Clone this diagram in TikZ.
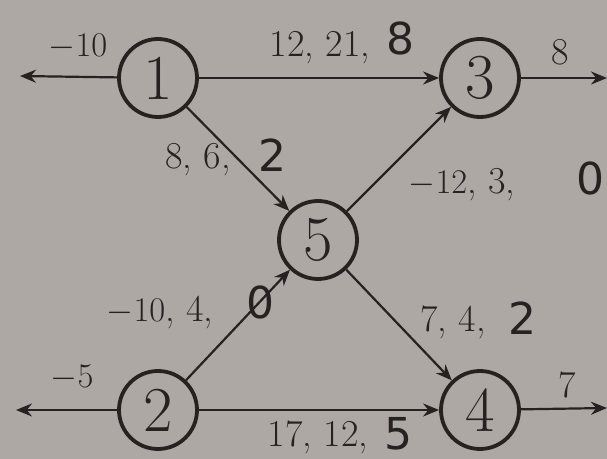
\documentclass[tikz,border=0pt]{standalone}
\usepackage{fontspec}
\newfontfamily\hand{DejaVu Sans}
\usetikzlibrary{arrows.meta}
\definecolor{bg}{RGB}{174,168,164}
\definecolor{ink}{RGB}{38,34,34}
\begin{document}
\begin{tikzpicture}[x=0.5pt,y=-0.5pt,
  vert/.style={circle, draw=ink, line width=1.9pt, minimum size=39pt, inner sep=0pt, text=ink, font=\fontsize{32}{32}\selectfont},
  edge/.style={draw=ink, line width=1.1pt, -{Stealth[length=8pt,width=6.5pt]}},
  lab/.style={text=ink, inner sep=0pt, font=\fontsize{19}{19}\selectfont},
  hw/.style={text=ink, inner sep=0pt, font=\hand\fontsize{22}{22}\selectfont}]
\fill[bg] (0,0) rectangle (607,459);
\useasboundingbox (0,0) rectangle (607,459);
\node[vert] (n1) at (158,78) {1};
\node[vert] (n3) at (480,78) {3};
\node[vert] (n5) at (318,240) {5};
\node[vert] (n2) at (158,410) {2};
\node[vert] (n4) at (480,410) {4};
\coordinate (o1) at (20,76);
\coordinate (o3) at (607,78);
\coordinate (o2) at (16,410);
\coordinate (o4) at (607,408);
\draw[edge] (n1) -- (o1);
\draw[edge] (n3) -- (o3);
\draw[edge] (n2) -- (o2);
\draw[edge] (n4) -- (o4);
\draw[edge] (n1) -- (n3);
\draw[edge] (n1) -- (n5);
\draw[edge] (n5) -- (n3);
\draw[edge] (n2) -- (n5);
\draw[edge] (n5) -- (n4);
\draw[edge] (n2) -- (n4);
\node[lab] (l1) at (78,47) {$-10$};
\node[lab] (l3) at (560,52) {8};
\node[lab] (l2) at (72,378) {$-5$};
\node[lab] (l4) at (567,385) {7};
\node[lab] (e13) at (320,48) {12, 21,};
\node[hw] (h13) at (400,38) {8};
\node[lab] (e15) at (198,160) {8, 6,};
\node[hw] (h15) at (272,155) {2};
\node[lab] (e53) at (462,185) {$-12$, 3,};
\node[hw] (h53) at (590,178) {0};
\node[lab] (e25) at (160,312) {$-10$, 4,};
\node[hw] (h25) at (260,302) {0};
\node[lab] (e54) at (453,322) {7, 4,};
\node[hw] (h54) at (522,318) {2};
\node[lab] (e24) at (318,437) {17, 12,};
\node[hw] (h24) at (398,434) {5};
\end{tikzpicture}
\end{document}
